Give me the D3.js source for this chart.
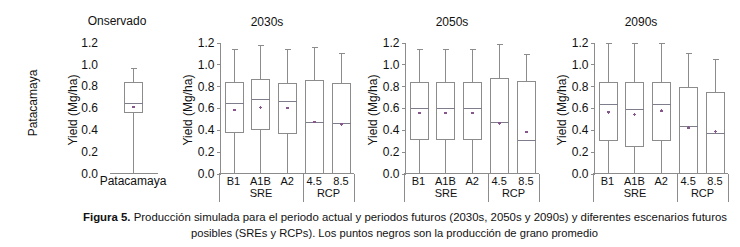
<!DOCTYPE html>
<html>
<head>
<meta charset="utf-8">
<script src="https://cdn.jsdelivr.net/npm/d3@7"></script>
<style>
  body { margin: 0; background: #fff; }
  svg { display: block; }
  text { font-family: "Liberation Sans", Arial, sans-serif; fill: #111; }
</style>
</head>
<body>
<svg id="chart" width="740" height="247"></svg>
<script>
// Data (Mg/ha)
const scenarios = ["B1", "A1B", "A2", "4.5", "8.5"];
const groups = [{ name: "SRE", from: 0, to: 2 }, { name: "RCP", from: 3, to: 4 }];
const periods = ["2030s", "2050s", "2090s"];
const yTicks = [0, 0.2, 0.4, 0.6, 0.8, 1.0, 1.2];

// observed Patacamaya
const obsStats = { min: 0, q1: 0.555, median: 0.64, q3: 0.83, max: 0.96, mean: 0.61 };

// one array per statistic, rows = periods, cols = scenarios
const maxVals = [
    [1.14, 1.17, 1.14, 1.15, 1.10],
    [1.14, 1.14, 1.14, 1.18, 1.09],
    [1.19, 1.19, 1.19, 1.10, 1.04]
];
const q3Vals = [
    [0.83, 0.86, 0.82, 0.85, 0.82],
    [0.83, 0.83, 0.83, 0.87, 0.84],
    [0.83, 0.83, 0.83, 0.785, 0.74]
];
const medianVals = [
    [0.645, 0.68, 0.655, 0.47, 0.46],
    [0.60, 0.60, 0.60, 0.47, 0.30],
    [0.63, 0.59, 0.63, 0.43, 0.37]
];
const meanVals = [
    [0.58, 0.605, 0.60, 0.47, 0.45],
    [0.555, 0.555, 0.555, 0.46, 0.38],
    [0.56, 0.54, 0.575, 0.42, 0.385]
];
const q1Vals = [
    [0.38, 0.40, 0.37, 0, 0],
    [0.31, 0.31, 0.31, 0, 0],
    [0.305, 0.25, 0.305, 0, 0]
];
const minVals = [
    [0, 0, 0, 0, 0],
    [0, 0, 0, 0, 0],
    [0, 0, 0, 0, 0]
];

const caption1 = "Producción simulada para el periodo actual y periodos futuros (2030s, 2050s y 2090s) y diferentes escenarios futuros";
const caption2 = "posibles (SREs y RCPs). Los puntos negros son la producción de grano promedio";

const lineCol = "#8c8c8c";
const medCol = "#7d7d8c";
const dotCol = "#86568c";
const boxW = 18;
const fs = 12;

const svg = d3.select("#chart");

const y = d3.scaleLinear().domain([0, 1.2]).range([173.5, 42.5]);

function drawBox(g, cx, s) {
    g.append("line")
        .attr("x1", cx).attr("x2", cx)
        .attr("y1", y(s.max)).attr("y2", y(s.q3))
        .attr("stroke", lineCol);
    g.append("line")
        .attr("x1", cx).attr("x2", cx)
        .attr("y1", y(s.q1)).attr("y2", y(s.min))
        .attr("stroke", lineCol);
    g.append("line")
        .attr("x1", cx - 3).attr("x2", cx + 3)
        .attr("y1", y(s.max)).attr("y2", y(s.max))
        .attr("stroke", lineCol);
    g.append("rect")
        .attr("x", cx - boxW / 2).attr("width", boxW)
        .attr("y", y(s.q3)).attr("height", y(s.q1) - y(s.q3))
        .attr("fill", "none").attr("stroke", lineCol);
    g.append("line")
        .attr("x1", cx - boxW / 2).attr("x2", cx + boxW / 2)
        .attr("y1", y(s.median)).attr("y2", y(s.median))
        .attr("stroke", medCol);
    g.append("circle")
        .attr("cx", cx).attr("cy", y(s.mean)).attr("r", 1.3)
        .attr("fill", dotCol);
}

// --- observed panel ---
const obs = svg.append("g").attr("shape-rendering", "crispEdges");

obs.append("text")
    .attr("x", 117).attr("y", 25)
    .attr("text-anchor", "middle").attr("font-size", fs)
    .text("Onservado");

obs.append("text")
    .attr("transform", "translate(37,103) rotate(-90)")
    .attr("text-anchor", "middle").attr("font-size", fs)
    .text("Patacamaya");

obs.append("text")
    .attr("transform", "translate(77,110) rotate(-90)")
    .attr("text-anchor", "middle").attr("font-size", fs)
    .text("Yield (Mg/ha)");

obs.selectAll("text.tick")
    .data(yTicks)
    .join("text")
    .attr("class", "tick")
    .attr("x", 98).attr("y", d => y(d))
    .attr("dy", "0.35em")
    .attr("text-anchor", "end").attr("font-size", fs)
    .text(d3.format(".1f"));

obs.append("line")
    .attr("x1", 110).attr("x2", 158)
    .attr("y1", y(0)).attr("y2", y(0))
    .attr("stroke", lineCol);

drawBox(obs, 133.5, obsStats);

obs.append("text")
    .attr("x", 133).attr("y", 185)
    .attr("text-anchor", "middle").attr("font-size", fs)
    .text("Patacamaya");

// --- future panels ---
const panelLeft = [219, 404, 593];
const panelWidth = 135;
const dividerOffset = 84;

periods.forEach((p, pi) => {
    const x0 = panelLeft[pi];
    const g = svg.append("g").attr("shape-rendering", "crispEdges");

    const x = d3.scalePoint()
        .domain(scenarios)
        .range([x0 + 14.5, x0 + 122]);

    g.append("text")
        .attr("x", x0 + 48).attr("y", 26)
        .attr("text-anchor", "middle").attr("font-size", fs)
        .text(p);

    g.append("text")
        .attr("transform", `translate(${x0 - 27},110) rotate(-90)`)
        .attr("text-anchor", "middle").attr("font-size", fs)
        .text("Yield (Mg/ha)");

    const yAxis = d3.axisLeft(y)
        .tickValues(yTicks)
        .tickFormat(d3.format(".1f"))
        .tickSize(3)
        .tickPadding(2);

    const ax = g.append("g")
        .attr("transform", `translate(${x0 + 0.5},0)`)
        .call(yAxis);
    ax.select(".domain").attr("stroke", lineCol);
    ax.selectAll(".tick line").attr("stroke", lineCol);
    ax.selectAll(".tick text")
        .attr("font-size", fs)
        .attr("font-family", "\"Liberation Sans\", Arial, sans-serif")
        .attr("fill", "#111");

    // x axis line
    g.append("line")
        .attr("x1", x0).attr("x2", x0 + panelWidth)
        .attr("y1", y(0)).attr("y2", y(0))
        .attr("stroke", lineCol);

    // group dividers below the axis
    [0, dividerOffset, panelWidth].forEach(dx => {
        g.append("line")
            .attr("x1", x0 + dx + 0.5).attr("x2", x0 + dx + 0.5)
            .attr("y1", y(0)).attr("y2", 202)
            .attr("stroke", lineCol);
    });

    scenarios.forEach((s, si) => {
        drawBox(g, Math.round(x(s)) + 0.5, {
            min: minVals[pi][si],
            q1: q1Vals[pi][si],
            median: medianVals[pi][si],
            q3: q3Vals[pi][si],
            max: maxVals[pi][si],
            mean: meanVals[pi][si]
        });
        g.append("text")
            .attr("x", x(s)).attr("y", 185)
            .attr("text-anchor", "middle").attr("font-size", 11)
            .text(s);
    });

    const bounds = [x0, x0 + dividerOffset, x0 + panelWidth];
    groups.forEach((grp, gi) => {
        g.append("text")
            .attr("x", (bounds[gi] + bounds[gi + 1]) / 2).attr("y", 197)
            .attr("text-anchor", "middle").attr("font-size", 11)
            .text(grp.name);
    });
});

// --- caption ---
const cap = svg.append("g");
const c1 = cap.append("text")
    .attr("x", 83).attr("y", 221)
    .attr("font-size", 10.5)
    .attr("textLength", 644).attr("lengthAdjust", "spacingAndGlyphs");
c1.append("tspan").attr("font-weight", "bold").text("Figura 5.");
c1.append("tspan").text(" " + caption1);

cap.append("text")
    .attr("x", 191).attr("y", 237)
    .attr("font-size", 10.5)
    .attr("textLength", 407).attr("lengthAdjust", "spacingAndGlyphs")
    .text(caption2);
</script>
</body>
</html>
